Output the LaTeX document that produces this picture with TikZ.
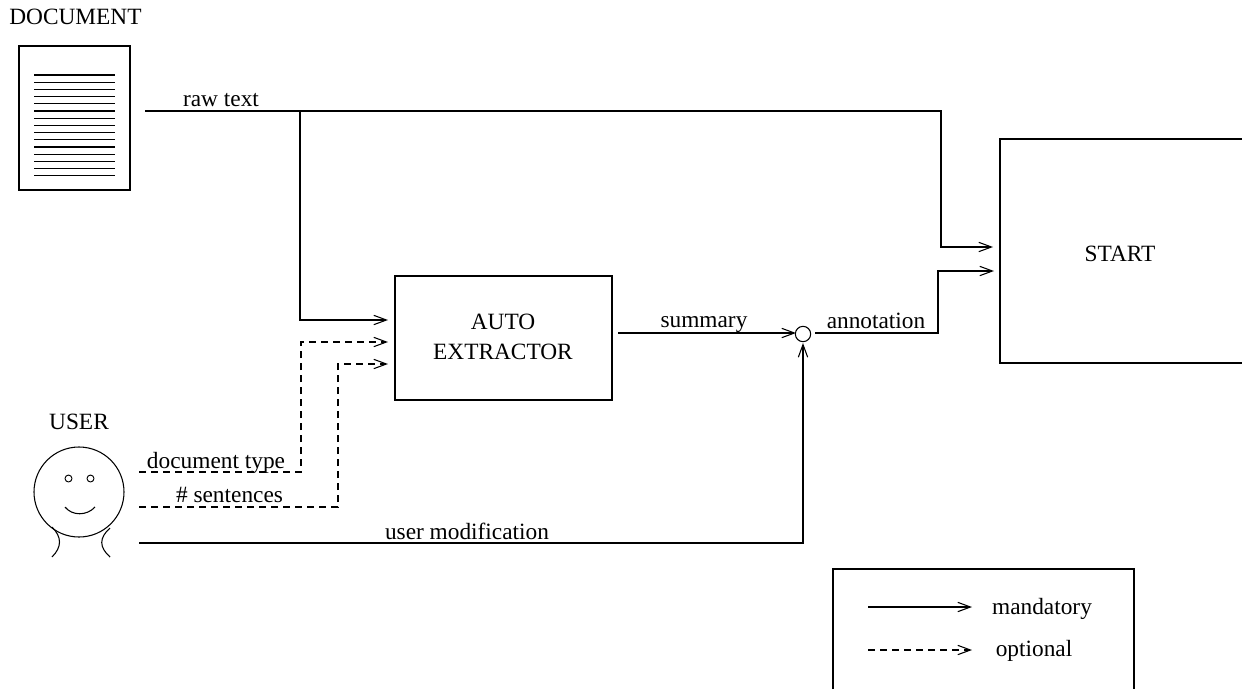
\documentclass[tikz,border=0pt]{standalone}
\usepackage{fontspec}
\setmainfont{Liberation Serif}
\usetikzlibrary{arrows.meta,calc}
\tikzset{
  every node/.style={inner sep=0pt,outer sep=0pt},
  lbl/.style={font=\fontsize{17.5pt}{20pt}\selectfont,text=black,align=center},
  box/.style={draw=black,line width=0.9pt},
  conn/.style={draw=black,line width=0.9pt,line join=miter},
  arr/.style={conn,-{Straight Barb[length=9.5pt,width=7pt,line width=0.8pt]}},
  opt/.style={dash pattern=on 5.5pt off 3.5pt},
  textline/.style={line width=1pt,black}
}
\begin{document}
\begin{tikzpicture}[x=0.75pt,y=-0.75pt]
\useasboundingbox (0,0) rectangle (1242,689);
% document
\node[lbl] (doclabel) at (75.5,17) {DOCUMENT};
\node[box,minimum width=83.25pt,minimum height=108pt] (doc) at (74.5,118) {};
\foreach \i in {0,...,14} {
  \draw[textline] ($(doc.north west)+(15,29+7.2*\i)$) -- ($(doc.north east)+(-15,29+7.2*\i)$);
}
% boxes
\node[box,minimum width=162.75pt,minimum height=93pt] (auto) at (503.5,338) {};
\node[lbl] (autolabel) at (503,337) {AUTO\\[3pt]EXTRACTOR};
\node[minimum width=181.5pt,minimum height=168pt] (start) at (1121,251) {};
\node[lbl] (startlabel) at (1120,254) {START};
\draw[box] (start.north east) -- (start.north west) -- (start.south west) -- (start.south east);
% user
\node[lbl] (userlabel) at (79,422) {USER};
\node[circle,draw=black,line width=0.8pt,minimum size=67.5pt] (face) at (79,492) {};
\node[circle,draw=black,line width=0.7pt,minimum size=5.2pt] (eyeL) at (68.5,478.5) {};
\node[circle,draw=black,line width=0.7pt,minimum size=5.2pt] (eyeR) at (90.5,478.5) {};
\draw[line width=0.8pt] (65,507) .. controls (72,516) and (87,516) .. (95,507);
\draw[line width=0.8pt] (52,527) .. controls (62,537) and (62,547) .. (52,557);
\draw[line width=0.8pt] (110,528) .. controls (99,538) and (99,547) .. (110,557);
% junction
\node[circle,draw=black,line width=0.8pt,minimum size=11.5pt] (junc) at (803,334) {};
% free ends
\coordinate (rawS) at (145,111);
\coordinate (rawB) at (300,111);
\coordinate (rawC) at (941,111);
\coordinate (rawE) at (993,247);
\coordinate (rawF) at (388,320);
\coordinate (dtS) at (139,472);
\coordinate (dtE) at (388,342);
\coordinate (nsS) at (139,507);
\coordinate (nsE) at (388,364);
\coordinate (umS) at (139,543);
\coordinate (sumS) at (618,333);
\coordinate (sumE) at (796,333);
\coordinate (anS) at (815,333);
\coordinate (anE) at (994,271);
\coordinate (umE) at (803,343);
% connectors
\draw[arr] (rawS) -- (rawC) |- (rawE);
\draw[arr] (rawB) |- (rawF);
\draw[arr,opt] (dtS) -- (301,472) |- (dtE);
\draw[arr,opt] (nsS) -- (338,507) |- (nsE);
\draw[arr] (umS) -| (umE);
\draw[arr] (sumS) -- (sumE);
\draw[arr] (anS) -- (938,333) |- (anE);
% labels
\node[lbl] (rawlabel) at (221,100) {raw text};
\node[lbl] (dtlabel) at (216,463) {document type};
\node[lbl] (nslabel) at (229.5,495) {\# sentences};
\node[lbl] (umlabel) at (467,531) {user modification};
\node[lbl] (sumlabel) at (704,325) {summary};
\node[lbl] (anlabel) at (876,321) {annotation};
% legend
\node[minimum width=225.75pt,minimum height=90pt] (legend) at (983.5,629) {};
\draw[box] (legend.south west) -- (legend.north west) -- (legend.north east) -- (legend.south east);
\coordinate (lgA) at (868,607);
\coordinate (lgB) at (972,607);
\coordinate (lgC) at (868,650);
\coordinate (lgD) at (972,650);
\draw[arr] (lgA) -- (lgB);
\draw[arr,opt] (lgC) -- (lgD);
\node[lbl] (mand) at (1042,609) {mandatory};
\node[lbl] (optl) at (1034,651) {optional};
\end{tikzpicture}
\end{document}
